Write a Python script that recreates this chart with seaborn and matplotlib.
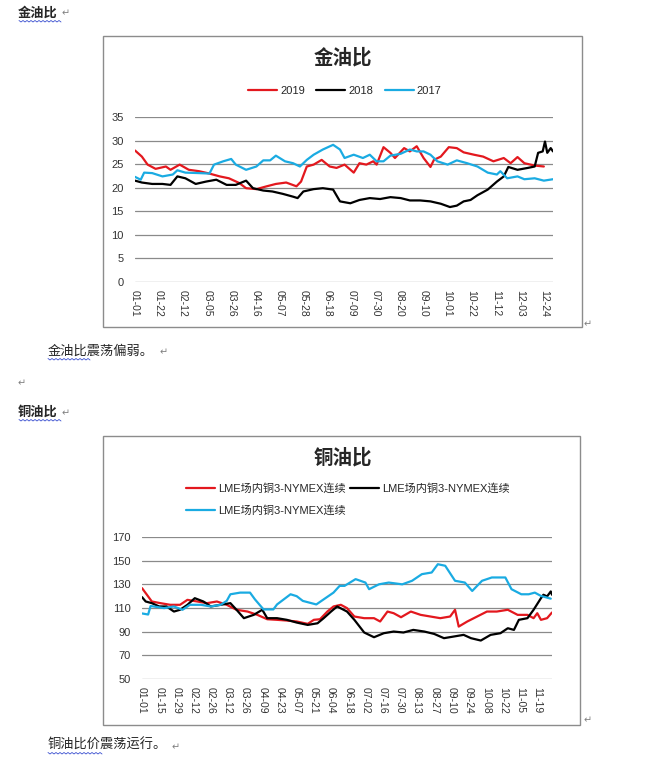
import matplotlib
matplotlib.use('Agg')
import matplotlib.pyplot as plt
from matplotlib.patches import Rectangle
from matplotlib.lines import Line2D
import seaborn as sns
import pandas as pd

# ---- gold / oil ratio (day of year, value) ----
gold_days_2019 = [0, 6, 11, 18, 27, 31, 39, 47, 56, 65, 74, 82, 91, 97, 106, 115, 123, 132, 141, 145,
                  150, 156, 163, 170, 176, 183, 191, 196, 202, 208, 211, 217, 223, 227, 235, 240, 246,
                  252, 258, 261, 267, 274, 281, 287, 296, 304, 313, 322, 328, 334, 340, 349, 357]
gold_2019 = [27.9, 26.6, 24.9, 24.0, 24.5, 23.8, 24.9, 23.8, 23.5, 23.0, 22.4, 22.0, 21.0, 19.9, 19.7,
             20.3, 20.8, 21.1, 20.3, 21.3, 24.5, 24.9, 25.9, 24.5, 24.2, 24.9, 23.2, 25.2, 24.9, 25.6,
             24.9, 28.6, 27.4, 26.3, 28.4, 27.7, 28.8, 26.3, 24.4, 25.9, 26.6, 28.6, 28.4, 27.5, 27.0,
             26.6, 25.6, 26.3, 25.2, 26.5, 25.2, 24.7, 24.5]

gold_days_2018 = [0, 6, 15, 24, 31, 37, 44, 53, 62, 71, 80, 88, 97, 103, 112, 120, 129, 138, 142, 147,
                  156, 164, 173, 179, 188, 196, 205, 214, 223, 232, 240, 249, 258, 267, 275, 281, 287,
                  293, 299, 308, 316, 322, 326, 334, 343, 349, 352, 356, 358, 360, 363, 365]
gold_2018 = [21.5, 21.1, 20.8, 20.8, 20.6, 22.4, 22.0, 20.8, 21.3, 21.7, 20.6, 20.6, 21.5, 19.9, 19.4,
             19.2, 18.7, 18.1, 17.8, 19.2, 19.7, 19.9, 19.6, 17.1, 16.7, 17.4, 17.8, 17.6, 18.0, 17.8,
             17.3, 17.3, 17.1, 16.6, 15.9, 16.2, 17.1, 17.4, 18.4, 19.6, 21.3, 22.4, 24.4, 23.8, 24.2,
             24.5, 27.4, 27.7, 29.8, 27.4, 28.4, 27.7]

gold_days_2017 = [0, 5, 8, 15, 24, 33, 37, 44, 56, 65, 69, 77, 84, 88, 97, 106, 112, 118, 123, 131,
                  138, 144, 150, 156, 164, 173, 179, 183, 191, 199, 205, 211, 217, 223, 232, 240, 246,
                  252, 258, 264, 273, 281, 290, 299, 308, 316, 319, 325, 334, 340, 349, 357, 365]
gold_2017 = [22.3, 21.7, 23.2, 23.1, 22.4, 22.8, 23.7, 23.2, 23.1, 23.0, 24.9, 25.6, 26.1, 24.9, 23.8,
             24.5, 25.8, 25.8, 26.8, 25.6, 25.2, 24.5, 25.9, 27.0, 28.1, 29.1, 28.1, 26.3, 27.0, 26.3,
             27.0, 25.6, 25.6, 26.8, 27.2, 28.1, 27.7, 27.7, 27.0, 25.6, 24.9, 25.8, 25.2, 24.5, 23.2,
             22.8, 23.5, 22.0, 22.4, 21.8, 22.0, 21.5, 21.8]

gold_ticks = ['01-01', '01-22', '02-12', '03-05', '03-26', '04-16', '05-07', '05-28', '06-18',
              '07-09', '07-30', '08-20', '09-10', '10-01', '10-22', '11-12', '12-03', '12-24']

# ---- copper / oil ratio ----
cu_days_red = [0, 4, 8, 15, 23, 31, 37, 45, 53, 61, 69, 77, 86, 94, 102, 110, 118, 126, 135, 140, 145,
               151, 156, 162, 167, 173, 181, 189, 194, 200, 205, 211, 219, 227, 235, 243, 251, 255,
               258, 265, 273, 281, 289, 298, 306, 314, 319, 322, 325, 330, 334]
cu_red = [126.8, 121.2, 115.5, 114.1, 112.7, 112.7, 116.9, 115.5, 114.1, 115.5, 112.7, 108.5, 107.0,
          104.2, 100.5, 100.0, 99.4, 98.6, 96.6, 100.0, 100.5, 107.0, 111.3, 112.7, 109.9, 102.8,
          101.4, 101.4, 98.6, 107.0, 105.6, 102.2, 107.0, 104.2, 102.8, 101.4, 102.8, 108.5, 94.3,
          98.6, 102.8, 107.0, 107.0, 108.5, 104.2, 104.2, 101.4, 105.6, 100.0, 101.4, 106.2]

cu_days_black = [0, 3, 8, 14, 20, 26, 31, 37, 43, 50, 56, 64, 72, 77, 83, 91, 98, 102, 110, 118, 126,
                 135, 143, 148, 154, 159, 167, 173, 181, 189, 197, 205, 213, 221, 230, 238, 246, 254,
                 262, 268, 276, 284, 292, 298, 303, 307, 314, 319, 325, 327, 330, 333, 334]
cu_black = [119.2, 115.5, 114.1, 111.3, 111.3, 107.0, 108.5, 112.7, 118.3, 115.5, 111.3, 112.7, 114.1,
            108.5, 101.4, 104.2, 108.5, 101.4, 101.4, 100.0, 97.7, 95.7, 97.1, 101.4, 107.0, 111.3,
            107.0, 100.0, 89.3, 85.3, 88.7, 90.1, 89.3, 91.5, 90.1, 88.1, 84.5, 85.9, 87.3, 84.5,
            82.5, 87.3, 88.7, 92.9, 91.5, 100.0, 101.4, 108.5, 118.3, 121.2, 119.8, 124.0, 121.2]

cu_days_blue = [0, 5, 7, 18, 26, 33, 39, 48, 56, 64, 69, 72, 80, 88, 92, 99, 107, 110, 121, 126, 131,
                142, 148, 156, 161, 165, 174, 182, 185, 193, 201, 212, 220, 228, 236, 241, 247, 255,
                263, 269, 277, 285, 296, 301, 309, 315, 320, 325, 333]
cu_blue = [105.4, 104.5, 111.7, 109.9, 111.3, 108.5, 112.7, 112.7, 111.3, 112.7, 116.0, 121.6, 123.0,
           123.0, 117.3, 108.8, 108.8, 113.0, 121.6, 120.0, 116.0, 113.0, 117.3, 123.0, 128.7, 128.7,
           134.4, 131.5, 125.9, 130.0, 131.5, 130.0, 133.0, 138.6, 140.0, 147.0, 145.7, 133.0, 131.5,
           124.4, 133.0, 135.8, 135.8, 125.9, 121.6, 121.6, 123.0, 120.2, 117.9]

cu_ticks = ['01-01', '01-15', '01-29', '02-12', '02-26', '03-12', '03-26', '04-09', '04-23', '05-07',
            '05-21', '06-04', '06-18', '07-02', '07-16', '07-30', '08-13', '08-27', '09-10', '09-24',
            '10-08', '10-22', '11-05', '11-19']

RED = '#E3181E'
BLACK = '#000000'
BLUE = '#1AABE2'
W, H = 656, 767

sns.set_style('white')
plt.rcParams['font.family'] = ['Liberation Sans', 'Noto Sans CJK SC', 'DejaVu Sans']

fig = plt.figure(figsize=(W / 100, H / 100), dpi=100)


def fx(x):
    return x / W


def fy(y):
    return 1 - y / H


def box(x0, y0, x1, y1):
    fig.patches.append(Rectangle((fx(x0), fy(y1)), fx(x1) - fx(x0), fy(y0) - fy(y1),
                                 transform=fig.transFigure, fill=False,
                                 edgecolor='#8c8c8c', lw=1.0))


def style_axis(ax, ticks, labels, ymin, ymax, ystep, xmax):
    ax.set_xlim(0, xmax)
    ax.set_ylim(ymin, ymax)
    ax.set_yticks(range(ymin, ymax + 1, ystep))
    ax.set_xticks(ticks)
    ax.set_xticklabels(labels, rotation=270, fontsize=7.5, color='#333333')
    ax.tick_params(axis='y', labelsize=8, colors='#333333', length=0, pad=8)
    ax.tick_params(axis='x', length=0, pad=6)
    ax.yaxis.grid(True, color='#8a8a8a', lw=0.9)
    ax.xaxis.grid(False)
    for s in ax.spines.values():
        s.set_visible(False)
    ax.set_xlabel('')
    ax.set_ylabel('')
    ax.set_facecolor('none')


def para_mark(x, y):
    fig.text(fx(x), fy(y), '\u21b5', fontsize=7, color='#808080', family='DejaVu Sans',
             ha='left', va='center')


def squiggle(x0, x1, y):
    xs, ys = [], []
    n = int((x1 - x0) / 2)
    for i in range(n + 1):
        xs.append(fx(x0 + 2 * i))
        ys.append(fy(y + (1 if i % 2 else -0.5)))
    fig.lines.append(Line2D(xs, ys, transform=fig.transFigure, color='#3a4fd0', lw=0.6))


# ---- chart 1: 金油比 ----
box(103, 36, 582, 327)
ax1 = fig.add_axes([fx(135), fy(282), fx(553) - fx(135), fy(117) - fy(282)])
gold_df = pd.concat([
    pd.DataFrame({'day': gold_days_2019, 'ratio': gold_2019, 'year': '2019'}),
    pd.DataFrame({'day': gold_days_2018, 'ratio': gold_2018, 'year': '2018'}),
    pd.DataFrame({'day': gold_days_2017, 'ratio': gold_2017, 'year': '2017'}),
])
sns.lineplot(data=gold_df, x='day', y='ratio', hue='year', hue_order=['2019', '2018', '2017'],
             palette={'2019': RED, '2018': BLACK, '2017': BLUE}, lw=1.6, ax=ax1, legend=False)
style_axis(ax1, [21 * i for i in range(len(gold_ticks))], gold_ticks, 0, 35, 5, 365)
fig.text(fx(343), fy(58), '金油比', fontsize=14, fontweight='bold', ha='center', va='center',
         family=['Noto Sans CJK SC'])
h1 = [Line2D([], [], color=c, lw=1.6) for c in (RED, BLACK, BLUE)]
ax1.legend(h1, ['2019', '2018', '2017'], loc='center', bbox_to_anchor=(fx(345), fy(91)),
           bbox_transform=fig.transFigure, ncol=3, frameon=False, fontsize=8,
           handlelength=2.6, columnspacing=1.0, handletextpad=0.3)

# ---- chart 2: 铜油比 ----
box(103, 436, 580, 725)
ax2 = fig.add_axes([fx(142), fy(679), fx(552) - fx(142), fy(537) - fy(679)])
for d, v, c in ((cu_days_red, cu_red, RED), (cu_days_black, cu_black, BLACK),
                (cu_days_blue, cu_blue, BLUE)):
    sns.lineplot(x=d, y=v, color=c, lw=1.6, ax=ax2)
style_axis(ax2, [14 * i for i in range(len(cu_ticks))], cu_ticks, 50, 170, 20, 334)
fig.text(fx(343), fy(458), '铜油比', fontsize=14, fontweight='bold', ha='center', va='center',
         family=['Noto Sans CJK SC'])
cu_label = 'LME场内铜3-NYMEX连续'
h2 = [Line2D([], [], color=c, lw=1.6) for c in (RED, BLUE, BLACK)]
ax2.legend(h2, [cu_label] * 3, loc='upper left', bbox_to_anchor=(fx(186), fy(483)),
           bbox_transform=fig.transFigure, ncol=2, frameon=False, fontsize=8,
           handlelength=2.6, columnspacing=0.4, handletextpad=0.3, labelspacing=1.0,
           borderpad=0, borderaxespad=0)

# ---- document text around the charts ----
doc_font = ['Noto Sans CJK SC']
fig.text(fx(18), fy(13), '金油比', fontsize=9.5, fontweight='bold', family=doc_font, va='center')
squiggle(19, 61, 21)
para_mark(62, 13)
para_mark(584, 324)
fig.text(fx(48), fy(351), '金油比震荡偏弱。', fontsize=9.5, family=doc_font, va='center')
squiggle(48, 90, 359)
para_mark(160, 352)
para_mark(18, 383)
fig.text(fx(18), fy(412), '铜油比', fontsize=9.5, fontweight='bold', family=doc_font, va='center')
squiggle(19, 61, 420)
para_mark(62, 413)
para_mark(584, 720)
fig.text(fx(48), fy(745), '铜油比价震荡运行。', fontsize=9.5, family=doc_font, va='center')
squiggle(48, 102, 753)
para_mark(172, 747)

fig.savefig('out.png', dpi=100)
